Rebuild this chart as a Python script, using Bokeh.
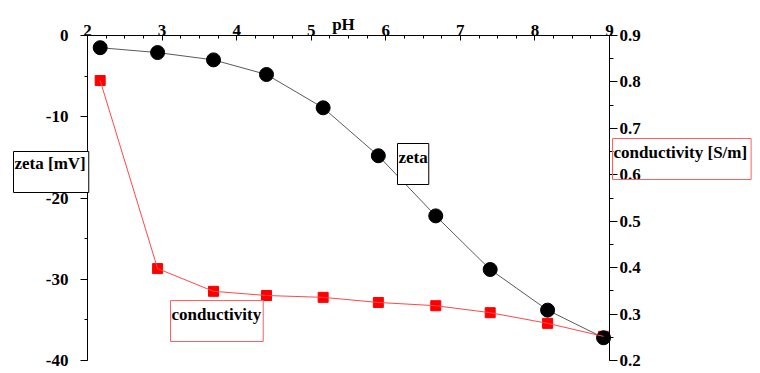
from bokeh.plotting import figure
from bokeh.models import (Range1d, LinearAxis, SingleIntervalTicker, Label,
                          NumeralTickFormatter)
from bokeh.embed import file_html
from bokeh.resources import INLINE

# ---- data ----
ph = [2.17, 2.94, 3.69, 4.40, 5.16, 5.90, 6.67, 7.40, 8.17, 8.92]
zeta = [-1.5, -2.1, -3.0, -4.8, -8.9, -14.8, -22.2, -28.8, -33.8, -37.2]
conductivity = [0.803, 0.398, 0.349, 0.340, 0.336, 0.325, 0.318, 0.303, 0.280, 0.252]

x_title = "pH"
left_title = "zeta [mV]"
right_title = "conductivity [S/m]"
zeta_name = "zeta"
cond_name = "conductivity"

FONT = "Liberation Serif"
FS = "17px"

W, H = 760, 373
# frame covers the whole canvas; axes are placed at fixed data locations
PX_L, PX_R, PY_T, PY_B = 87, 609, 35, 360
ph_lo, ph_hi = 2, 9
z_lo, z_hi = -40, 0
c_lo, c_hi = 0.2, 0.9

sx = (PX_R - PX_L) / (ph_hi - ph_lo)
sz = (PY_B - PY_T) / (z_hi - z_lo)
sc = (PY_B - PY_T) / (c_hi - c_lo)

x_range = Range1d(ph_lo - PX_L / sx, ph_hi + (W - PX_R) / sx)
y_range = Range1d(z_lo - (H - PY_B) / sz, z_hi + PY_T / sz)
c_range = Range1d(c_lo - (H - PY_B) / sc, c_hi + PY_T / sc)

p = figure(width=W, height=H, x_range=x_range, y_range=y_range,
           x_axis_location=None, y_axis_location=None,
           output_backend="svg", toolbar_location=None, min_border=0)
p.outline_line_color = None
p.xgrid.visible = False
p.ygrid.visible = False
p.background_fill_color = "white"
p.border_fill_color = "white"
p.extra_y_ranges = {"cond": c_range}

xa = LinearAxis(fixed_location=z_hi, bounds=(ph_lo, ph_hi),
                ticker=SingleIntervalTicker(interval=1, num_minor_ticks=4),
                formatter=NumeralTickFormatter(format="0"))
xa.major_tick_in = 5
xa.major_tick_out = 0
xa.minor_tick_in = 3
xa.minor_tick_out = 0
xa.major_label_standoff = 0
p.add_layout(xa, "above")

ya = LinearAxis(fixed_location=ph_lo, bounds=(z_lo, z_hi),
                ticker=SingleIntervalTicker(interval=10, num_minor_ticks=2),
                formatter=NumeralTickFormatter(format="0"))
ya.major_tick_in = 0
ya.major_tick_out = 7
ya.minor_tick_in = 0
ya.minor_tick_out = 3
ya.major_label_standoff = 12
p.add_layout(ya, "left")

ra = LinearAxis(y_range_name="cond", fixed_location=ph_hi, bounds=(c_lo, c_hi),
                ticker=SingleIntervalTicker(interval=0.1, num_minor_ticks=2),
                formatter=NumeralTickFormatter(format="0.0"))
ra.major_tick_in = 0
ra.major_tick_out = 8
ra.minor_tick_in = 0
ra.minor_tick_out = 4
ra.major_label_standoff = 2
p.add_layout(ra, "right")

for ax in (xa, ya, ra):
    ax.axis_line_color = "black"
    ax.major_tick_line_color = "black"
    ax.minor_tick_line_color = "black"
    ax.major_label_text_font = FONT
    ax.major_label_text_font_size = FS
    ax.major_label_text_font_style = "bold"
    ax.major_label_text_color = "black"

# conductivity markers (under the zeta circles)
p.scatter(ph, conductivity, y_range_name="cond", marker="square", size=10,
          fill_color="red", line_color="red")

# zeta series
p.line(ph, zeta, line_color="#5a5a5a", line_width=1)
p.scatter(ph, zeta, marker="circle", size=14, fill_color="black", line_color="black")

# conductivity line
p.line(ph, conductivity, y_range_name="cond", line_color="#ff4848", line_width=1)

def boxed(text, x, y, color, pad, fill="white"):
    lab = Label(x=x, y=y, x_units="canvas", y_units="canvas", text=text,
                text_font=FONT, text_font_size=FS, text_font_style="bold",
                text_color="black", text_align="left", text_baseline="top",
                background_fill_color=fill, border_line_color=color,
                border_line_width=1, padding=pad)
    p.add_layout(lab)

boxed(left_title, 13, 151, "black", dict(left=1, right=3, top=2, bottom=20))
boxed(zeta_name, 397, 143, "black", dict(left=1, right=1, top=4, bottom=18))
boxed(cond_name, 170, 300, "#ff6060", dict(left=1, right=2, top=4, bottom=18), fill=None)
boxed(right_title, 612, 138, "#ff6060", dict(left=1, right=4, top=4, bottom=18), fill=None)

p.add_layout(Label(x=343, y=14, x_units="canvas", y_units="canvas", text=x_title,
                   text_font=FONT, text_font_size=FS, text_font_style="bold",
                   text_align="center", text_baseline="top", text_color="black"))

open("out.html", "w").write(file_html(p, INLINE))
